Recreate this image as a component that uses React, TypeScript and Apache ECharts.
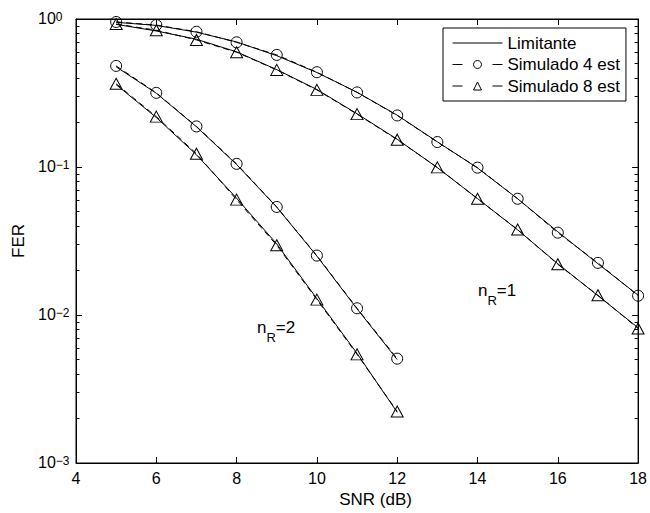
import { useEffect, useRef } from "react";
import * as echarts from "echarts";

const snrR1 = [5, 6, 7, 8, 9, 10, 11, 12, 13, 14, 15, 16, 17, 18];
const snrR2 = [5, 6, 7, 8, 9, 10, 11, 12];

const lim4R1 = [0.95, 0.905, 0.815, 0.7, 0.565, 0.435, 0.32, 0.224, 0.148, 0.0985, 0.061, 0.0365, 0.0222, 0.0136];
const sim4R1 = [0.955, 0.91, 0.82, 0.696, 0.572, 0.437, 0.319, 0.223, 0.1475, 0.099, 0.061, 0.036, 0.0225, 0.0135];
const lim8R1 = [0.92, 0.83, 0.73, 0.6, 0.455, 0.334, 0.229, 0.154, 0.099, 0.0612, 0.0376, 0.0222, 0.0135, 0.0082];
const sim8R1 = [0.925, 0.84, 0.722, 0.596, 0.453, 0.332, 0.2277, 0.153, 0.0994, 0.061, 0.0378, 0.022, 0.0136, 0.0081];

const lim4R2 = [0.475, 0.315, 0.187, 0.104, 0.0535, 0.025, 0.011, 0.005];
const sim4R2 = [0.482, 0.317, 0.188, 0.105, 0.0537, 0.0252, 0.0111, 0.00507];
const lim8R2 = [0.36, 0.216, 0.121, 0.0615, 0.0302, 0.0129, 0.0055, 0.0022];
const sim8R2 = [0.365, 0.219, 0.123, 0.0602, 0.0296, 0.0127, 0.00542, 0.00223];

const majorTicks = [0.001, 0.01, 0.1, 1];
const minorTicks = [
  0.002, 0.003, 0.004, 0.005, 0.006, 0.007, 0.008, 0.009,
  0.02, 0.03, 0.04, 0.05, 0.06, 0.07, 0.08, 0.09,
  0.2, 0.3, 0.4, 0.5, 0.6, 0.7, 0.8, 0.9,
];
const legendNames = ["Limitante", "Simulado 4 est", "Simulado 8 est"];

const FONT = "Liberation Sans, Arial, Helvetica, sans-serif";
const NONE = "rgba(0,0,0,0)";

const pairs = (xs: number[], ys: number[]) => xs.map((x, i) => [x, ys[i]]);

export default function App() {
  const ref = useRef<HTMLDivElement>(null);
  useEffect(() => {
    if (!ref.current) return;
    const chart = echarts.init(ref.current, undefined, { renderer: "svg" });

    const yBase = {
      type: "log" as const,
      logBase: 10,
      min: 0.001,
      max: 1,
      splitLine: { show: false },
      axisLine: { show: true, lineStyle: { color: "#000", width: 1 } },
    };

    const limStyle = (name: string, xs: number[], ys: number[]) => ({
      name,
      type: "line",
      data: pairs(xs, ys),
      symbol: "none",
      lineStyle: { color: "#000", width: 1, type: "solid" },
      itemStyle: { color: "#000" },
      z: 2,
    });
    const simStyle = (name: string, xs: number[], ys: number[], symbol: string, size: any) => ({
      name,
      type: "line",
      data: pairs(xs, ys),
      symbol,
      symbolSize: size,
      showSymbol: true,
      lineStyle: { color: "#000", width: 1, type: [6, 4] },
      itemStyle: { color: NONE, borderColor: "#000", borderWidth: 1 },
      z: 3,
    });

    chart.setOption({
      animation: false,
      backgroundColor: "#fff",
      textStyle: { fontFamily: FONT, color: "#000" },
      grid: { left: 76, right: 9, top: 19, bottom: 49, show: true, borderColor: "#000", borderWidth: 1 },
      legend: {
        data: [
          { name: legendNames[0], itemStyle: { opacity: 0 }, lineStyle: { width: 1, type: "solid" } },
          { name: legendNames[1], itemStyle: { borderWidth: 1, color: NONE, borderColor: "#000" }, lineStyle: { width: 1, type: [10, 30] } },
          { name: legendNames[2], itemStyle: { borderWidth: 1, color: NONE, borderColor: "#000" }, lineStyle: { width: 1, type: [10, 30] } },
        ],
        orient: "vertical",
        left: 443,
        top: 28,
        padding: [6.5, 6, 6.5, 9],
        itemWidth: 50,
        itemHeight: 10,
        itemGap: 4.5,
        borderColor: "#000",
        borderWidth: 1,
        borderRadius: 0,
        backgroundColor: "#fff",
        textStyle: { fontSize: 17, lineHeight: 16, fontFamily: FONT, color: "#000" },
      },
      xAxis: [
        {
          type: "value",
          min: 4,
          max: 18,
          interval: 2,
          position: "bottom",
          name: "SNR (dB)",
          nameLocation: "middle",
          nameGap: 28,
          nameTextStyle: { fontSize: 17, fontFamily: FONT, color: "#000", padding: [0, 0, 0, 37] },
          splitLine: { show: false },
          axisLine: { show: true, lineStyle: { color: "#000", width: 1 } },
          axisTick: { show: true, inside: true, length: 6, lineStyle: { color: "#000" } },
          axisLabel: { fontSize: 16, fontFamily: FONT, color: "#000", margin: 7 },
        },
        {
          type: "value",
          min: 4,
          max: 18,
          interval: 2,
          position: "top",
          splitLine: { show: false },
          axisLine: { show: true, lineStyle: { color: "#000", width: 1 } },
          axisTick: { show: true, inside: true, length: 6, lineStyle: { color: "#000" } },
          axisLabel: { show: false },
        },
      ],
      yAxis: [
        {
          ...yBase,
          position: "left",
          name: "FER",
          nameLocation: "middle",
          nameGap: 45,
          nameRotate: 90,
          nameTextStyle: { fontSize: 17, fontFamily: FONT, color: "#000" },
          axisTick: { show: true, inside: true, length: 6, customValues: majorTicks, lineStyle: { color: "#000" } },
          axisLabel: {
            customValues: majorTicks,
            margin: 38,
            align: "left",
            padding: [0, 0, 1, 0],
            formatter: (v: number) => {
              const e = Math.round(Math.log10(v));
              const s = e === 0 ? "0" : "\u2212" + String(-e);
              return `{b|10}{s|${s}}`;
            },
            rich: {
              b: { fontSize: 16, lineHeight: 16, fontFamily: FONT, color: "#000", padding: [5, 0, 0, 0], verticalAlign: "bottom" },
              s: { fontSize: 12, lineHeight: 12, fontFamily: FONT, color: "#000", verticalAlign: "top" },
            },
          },
        },
        {
          ...yBase,
          position: "left",
          axisLine: { show: false },
          axisTick: { show: true, inside: true, length: 3.5, customValues: minorTicks, lineStyle: { color: "#000" } },
          axisLabel: { show: false },
        },
        {
          ...yBase,
          position: "right",
          axisTick: { show: true, inside: true, length: 6, customValues: majorTicks, lineStyle: { color: "#000" } },
          axisLabel: { show: false },
        },
        {
          ...yBase,
          position: "right",
          axisLine: { show: false },
          axisTick: { show: true, inside: true, length: 3.5, customValues: minorTicks, lineStyle: { color: "#000" } },
          axisLabel: { show: false },
        },
      ],
      series: [
        limStyle("Limitante", snrR1, lim4R1),
        limStyle("Limitante", snrR1, lim8R1),
        limStyle("Limitante", snrR2, lim4R2),
        limStyle("Limitante", snrR2, lim8R2),
        simStyle("Simulado 4 est", snrR1, sim4R1, "circle", 11),
        simStyle("Simulado 4 est", snrR2, sim4R2, "circle", 11),
        simStyle("Simulado 8 est", snrR1, sim8R1, "triangle", [12, 11]),
        simStyle("Simulado 8 est", snrR2, sim8R2, "triangle", [12, 11]),
      ],
      graphic: [
        {
          type: "text",
          x: 478,
          y: 282,
          style: {
            text: "{n|n}{r|R}{n|=1}",
            verticalAlign: "top",
            rich: {
              n: { fontSize: 17, lineHeight: 17, fontFamily: FONT, fill: "#000", verticalAlign: "top" },
              r: { fontSize: 13, lineHeight: 13, fontFamily: FONT, fill: "#000", padding: [12, 0, 0, 0], verticalAlign: "top" },
            },
          },
        },
        {
          type: "text",
          x: 257,
          y: 319,
          style: {
            text: "{n|n}{r|R}{n|=2}",
            verticalAlign: "top",
            rich: {
              n: { fontSize: 17, lineHeight: 17, fontFamily: FONT, fill: "#000", verticalAlign: "top" },
              r: { fontSize: 13, lineHeight: 13, fontFamily: FONT, fill: "#000", padding: [12, 0, 0, 0], verticalAlign: "top" },
            },
          },
        },
      ],
    });
    return () => chart.dispose();
  }, []);
  return <div ref={ref} style={{ position: "fixed", left: 0, top: 0, width: 650, height: 513 }} />;
}
